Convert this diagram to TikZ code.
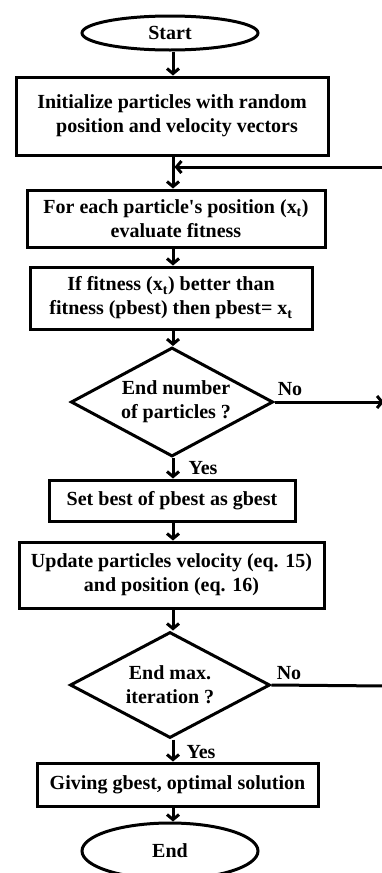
\documentclass[tikz,border=0pt]{standalone}
\usepackage{fontspec}
\setmainfont{Liberation Serif}
\usetikzlibrary{arrows.meta,shapes.geometric}
\tikzset{
  blk/.style={draw, line width=3pt, align=center, inner sep=0pt,
    font=\fontsize{20}{24}\selectfont\bfseries},
  term/.style={blk, ellipse},
  dec/.style={blk, diamond, aspect=2},
  arr/.style={-{Straight Barb[length=5pt,width=12pt]}, line width=3pt},
  ln/.style={line width=3pt},
  lbl/.style={font=\fontsize{20}{24}\selectfont\bfseries, inner sep=0pt}
}
\begin{document}
\begin{tikzpicture}[x=1pt,y=-1pt]
\useasboundingbox (0,0) rectangle (381,873);
\coordinate (sp) at (173,0);
\node[term, minimum width=176pt, minimum height=34pt] (start) at (170,33) {Start};
\node[blk, minimum width=312pt, minimum height=78pt] (b1) at (172,116)
  {Initialize particles with random\\\hspace{0.5em}position and velocity vectors};
\node[blk, minimum width=298pt, minimum height=57pt] (b2) at (176,218.5)
  {For each particle\textquotesingle s position (x\textsubscript{t})\\evaluate fitness};
\node[blk, minimum width=282pt, minimum height=62pt] (b3) at (171,298)
  {If fitness (x\textsubscript{t}) better than\\fitness (pbest) then pbest= x\textsubscript{t}};
\node[dec, minimum width=200pt, minimum height=109pt] (d1) at (172,402)
  {\hspace{0.4em}End number\\\hspace{0.4em}of particles ?};
\node[blk, minimum width=246pt, minimum height=41pt] (b4) at (172,500.5)
  {Set best of pbest as gbest};
\node[blk, minimum width=305pt, minimum height=66pt] (b5) at (171.5,575)
  {Update particles velocity (eq. 15)\\and position (eq. 16)};
\node[dec, minimum width=200pt, minimum height=106pt] (d2) at (170,685)
  {End max.\\iteration ?};
\node[blk, minimum width=281pt, minimum height=43pt] (b6) at (177.5,784.5)
  {Giving gbest, optimal solution};
\node[term, minimum width=176pt, minimum height=56pt] (end) at (170,851) {End};

\coordinate (ret) at (385,167);
\coordinate (no1) at (384,402);
\coordinate (no2) at (386,686);

\draw[arr] (start.south -| sp) -- (b1.north -| sp);
\draw[arr] (b1.south -| sp) -- (b2.north -| sp);
\draw[arr] (ret) -- ([xshift=1.5pt]ret -| sp);
\draw[arr] (b2.south -| sp) -- (b3.north -| sp);
\draw[arr] (b3.south -| sp) -- (d1.north -| sp);
\draw[arr] (d1.south -| sp) -- (b4.north -| sp);
\draw[arr] (d1.east) -- (no1);
\draw[arr] (b4.south -| sp) -- (b5.north -| sp);
\draw[arr] (b5.south -| sp) -- (d2.north -| sp);
\draw[arr] (d2.south -| sp) -- (b6.north -| sp);
\draw[ln] (d2.east) -- (no2);
\draw[arr] (b6.south -| sp) -- (end.north -| sp);

\node[lbl] (n1) at (290,389) {No};
\node[lbl] (y1) at (203,468) {Yes};
\node[lbl] (n2) at (289,673) {No};
\node[lbl] (y2) at (201,752) {Yes};
\end{tikzpicture}
\end{document}
